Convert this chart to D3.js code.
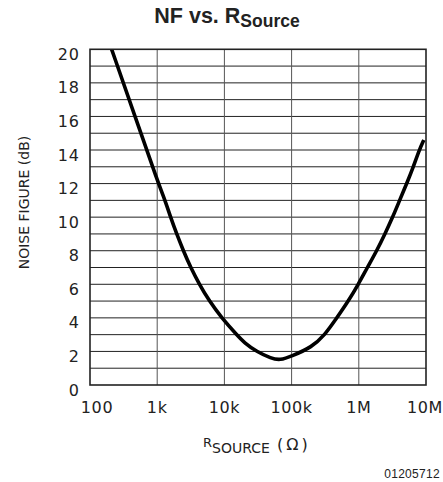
<!DOCTYPE html>
<html>
<head>
<meta charset="utf-8">
<script src="https://cdn.jsdelivr.net/npm/d3@7"></script>
<style>
  body { margin: 0; background: #fff; }
  svg { display: block; }
</style>
</head>
<body>
<svg id="chart" width="443" height="482"></svg>
<script>
// values
var rSource = [210, 468, 1040, 1310, 1580, 1950, 2450, 3150, 4240, 5970, 9100,
  15200, 20000, 30000, 50000, 67000, 100000, 200000, 314000, 443000, 699000,
  984000, 1340000, 1850000, 2450000, 3190000, 4000000, 5160000, 6480000, 7940000, 9300000]
var noiseFig = [20, 16, 12, 11, 10, 9, 8, 7, 6, 5, 4,
  3, 2.5, 2, 1.58, 1.47, 1.72, 2.25, 3, 3.85, 5,
  6, 7, 8, 9, 10, 10.95, 12, 13, 14, 14.6]

var xTicks = [100, 1e3, 1e4, 1e5, 1e6, 1e7]
var xTickLabels = ['100', '1k', '10k', '100k', '1M', '10M']
var yTicks = [0, 2, 4, 6, 8, 10, 12, 14, 16, 18, 20]

var svg = d3.select('#chart')
var pLeft = 90, pRight = 426, pTop = 49.3, pBottom = 385

var x = d3.scaleLog().domain([100, 1e7]).range([pLeft, pRight])
var y = d3.scaleLinear().domain([0, 20]).range([pBottom, pTop])

// grid
svg.append('g')
  .selectAll('line')
  .data(d3.range(1, 20))
  .enter().append('line')
  .attr('x1', pLeft).attr('x2', pRight)
  .attr('y1', function (d) { return y(d) })
  .attr('y2', function (d) { return y(d) })
  .attr('stroke', '#222')
  .attr('stroke-width', 1)

svg.append('g')
  .selectAll('line')
  .data(xTicks.slice(1, -1))
  .enter().append('line')
  .attr('y1', pTop).attr('y2', pBottom)
  .attr('x1', function (d) { return x(d) })
  .attr('x2', function (d) { return x(d) })
  .attr('stroke', '#555')
  .attr('stroke-width', 1)

svg.append('defs').append('clipPath').attr('id', 'plotclip')
  .append('rect')
  .attr('x', pLeft).attr('y', pTop)
  .attr('width', pRight - pLeft).attr('height', pBottom - pTop)

var pts = rSource.map(function (r, i) { return [r, noiseFig[i]] })
var line = d3.line()
  .x(function (d) { return x(d[0]) })
  .y(function (d) { return y(d[1]) })
  .curve(d3.curveBasis)

svg.append('path')
  .datum(pts)
  .attr('clip-path', 'url(#plotclip)')
  .attr('d', line)
  .attr('fill', 'none')
  .attr('stroke', '#000')
  .attr('stroke-width', 3.6)

// frame
svg.append('rect')
  .attr('x', pLeft).attr('y', pTop)
  .attr('width', pRight - pLeft).attr('height', pBottom - pTop)
  .attr('fill', 'none')
  .attr('stroke', '#222')
  .attr('stroke-width', 1.6)

var tickFont = '"DejaVu Sans", sans-serif'

svg.append('g')
  .selectAll('text')
  .data(yTicks)
  .enter().append('text')
  .attr('x', 80)
  .attr('y', function (d) { return y(d) + 5 })
  .attr('dominant-baseline', 'central')
  .attr('text-anchor', 'end')
  .attr('font-family', tickFont)
  .attr('font-size', 16)
  .attr('letter-spacing', 1)
  .attr('fill', '#222')
  .text(function (d) { return d })

svg.append('g')
  .selectAll('text')
  .data(xTicks)
  .enter().append('text')
  .attr('x', function (d, i) { return x(d) + (i === 0 ? 7 : i === 5 ? -1 : 0) })
  .attr('y', 413.3)
  .attr('text-anchor', 'middle')
  .attr('font-family', tickFont)
  .attr('font-size', 16)
  .attr('letter-spacing', 0.6)
  .attr('fill', '#222')
  .text(function (d, i) { return xTickLabels[i] })

// title
var title = svg.append('text')
  .attr('x', 227).attr('y', 22.7)
  .attr('text-anchor', 'middle')
  .attr('font-family', '"Liberation Sans", Arial, sans-serif')
  .attr('font-weight', 'bold')
  .attr('font-size', 21.5)
  .attr('fill', '#222')
title.append('tspan').text('NF vs. R')
title.append('tspan').attr('font-size', 17.5).attr('dy', 4.6).text('Source')

// axis titles
svg.append('text')
  .attr('transform', 'translate(29,202.5) rotate(-90)')
  .attr('text-anchor', 'middle')
  .attr('font-family', tickFont)
  .attr('font-size', 14)
  .attr('fill', '#222')
  .text('NOISE FIGURE (dB)')

var xl = svg.append('text')
  .attr('x', 203).attr('y', 447)
  .attr('font-family', tickFont)
  .attr('font-size', 13)
  .attr('fill', '#222')
xl.append('tspan').text('R')
xl.append('tspan').attr('font-size', 14).attr('dy', 5.7).text('SOURCE')

svg.append('text')
  .attr('x', 277).attr('y', 449.5)
  .attr('font-family', tickFont)
  .attr('font-size', 16)
  .attr('letter-spacing', 3)
  .attr('fill', '#222')
  .text('(Ω)')

svg.append('text')
  .attr('x', 440).attr('y', 478)
  .attr('text-anchor', 'end')
  .attr('font-family', '"Liberation Sans", Arial, sans-serif')
  .attr('font-size', 12)
  .attr('letter-spacing', 0.3)
  .attr('fill', '#222')
  .text('01205712')
</script>
</body>
</html>
